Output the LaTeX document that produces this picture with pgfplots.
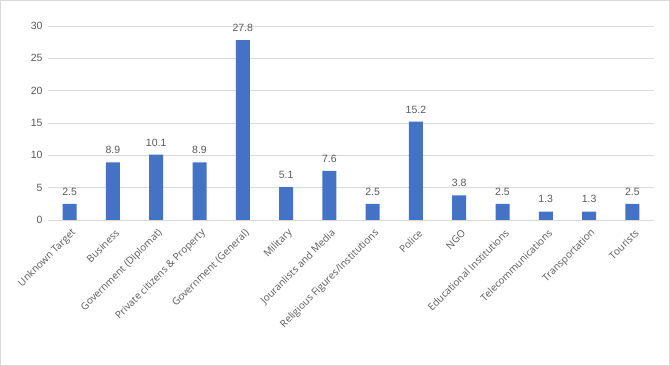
\documentclass[border=0pt]{standalone}
\usepackage{fontspec}
\setmainfont{Liberation Sans}
\newfontfamily\catfont{Open Sans}
\usepackage{pgfplots}
\pgfplotsset{compat=1.18}
\definecolor{barblue}{HTML}{4472C4}
\definecolor{txt}{HTML}{595959}
\definecolor{gridc}{HTML}{D9D9D9}
\begin{document}
\begin{tikzpicture}
\path[use as bounding box] (0,0) rectangle (670pt,366pt);
\draw[gridc, line width=1pt] (0.5pt,0.5pt) rectangle (669.5pt,365.5pt);
\begin{axis}[
  at={(48pt,146pt)}, anchor=south west,
  scale only axis, width=606pt, height=194pt,
  ymin=0, ymax=30, ytick={0,5,...,30},
  xmin=-0.5, xmax=13.5,
  xtick={0,...,13},
  xticklabels={Unknown Target,Business,Government (Diplomat),Private citizens \& Property,Government (General),Military,Jouranlists and Media,Religious Figures/Institutions,Police,NGO,Educational Institutions,Telecommunications,Transportation,Tourists},
  xticklabel style={xshift=7pt, yshift=-9pt, rotate=45, anchor=east, font=\catfont\fontsize{10}{12}\selectfont, text=txt},
  yticklabel style={font=\fontsize{10.5}{12}\selectfont, text=txt, xshift=-2pt},
  /pgf/number format/assume math mode=true,
  major tick length=0pt,
  ymajorgrids=true, xmajorgrids=false,
  major grid style={draw=gridc, line width=0.8pt},
  axis x line*=bottom, axis y line*=left,
  x axis line style={draw=gridc, line width=0.8pt, -},
  y axis line style={draw=none},
  ytick style={draw=none}, xtick style={draw=none},
  nodes near coords,
  nodes near coords style={font=\fontsize{10.5}{12}\selectfont, text=txt, /pgf/number format/fixed, /pgf/number format/precision=1, /pgf/number format/fixed zerofill, yshift=5pt},
  clip=false,
]
\addplot[ybar, bar width=14pt, fill=barblue, draw=none] coordinates {
(0,2.5) (1,8.9) (2,10.1) (3,8.9) (4,27.8) (5,5.1) (6,7.6) (7,2.5) (8,15.2) (9,3.8) (10,2.5) (11,1.3) (12,1.3) (13,2.5)
};
\end{axis}
\end{tikzpicture}
\end{document}
